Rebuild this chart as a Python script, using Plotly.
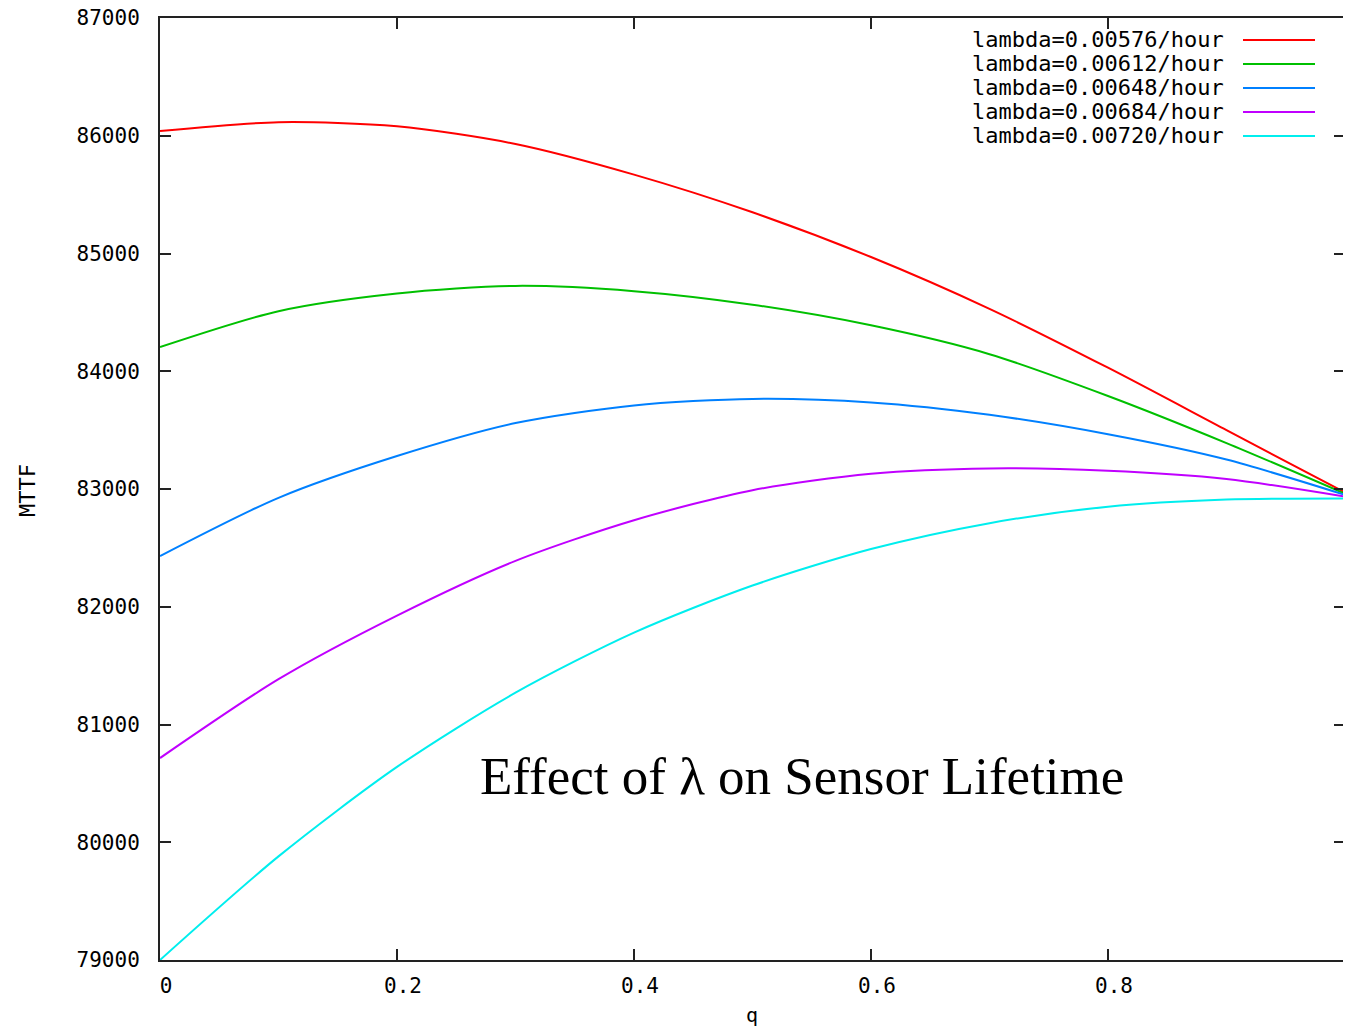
import plotly.graph_objects as go

q_values = [0.0, 0.1, 0.2, 0.3, 0.4, 0.5, 0.6, 0.7, 0.8, 0.9, 1.0]

series_names = [
    "lambda=0.00576/hour",
    "lambda=0.00612/hour",
    "lambda=0.00648/hour",
    "lambda=0.00684/hour",
    "lambda=0.00720/hour",
]
series_colors = ["#ff0000", "#00c000", "#0080ff", "#c000ff", "#00eeee"]

mttf_00576 = [86040, 86115, 86080, 85930, 85670, 85350, 84970, 84530, 84030, 83500, 82970]
mttf_00612 = [84205, 84510, 84660, 84725, 84680, 84565, 84390, 84145, 83790, 83390, 82960]
mttf_00648 = [82430, 82925, 83280, 83560, 83710, 83765, 83735, 83630, 83465, 83250, 82950]
mttf_00684 = [80715, 81385, 81925, 82390, 82735, 82990, 83130, 83175, 83155, 83085, 82935]
mttf_00720 = [79000, 79880, 80640, 81270, 81780, 82180, 82490, 82710, 82850, 82910, 82920]
series_values = [mttf_00576, mttf_00612, mttf_00648, mttf_00684, mttf_00720]

x_ticks = [0, 0.2, 0.4, 0.6, 0.8, 1]
x_tick_text = ["0", "0.2", "0.4", "0.6", "0.8", "1"]
y_ticks = [79000, 80000, 81000, 82000, 83000, 84000, 85000, 86000, 87000]

title_text = "Effect of \u03bb on Sensor Lifetime"
x_title = "q"
y_title = "MTTF"

# plot-area geometry on screen (page body has an 8px margin)
PL, PR, PT, PB = 160, 1345, 18, 960
PW, PH = PR - PL, PB - PT

def px(xpix):
    return (xpix - PL) / PW

def py(ypix):
    return (PB - ypix) / PH

mono = "DejaVu Sans Mono"
fig = go.Figure()
for name, color, vals in zip(series_names, series_colors, series_values):
    fig.add_trace(go.Scatter(
        x=q_values, y=vals, mode="lines", name=name,
        line=dict(color=color, width=2, shape="spline", smoothing=0.8),
        showlegend=False,
    ))

# custom gnuplot-style key: text right-aligned, sample line to the right
key_top = 40
key_step = 24
for i, (name, color) in enumerate(zip(series_names, series_colors)):
    ypaper = py(key_top + i * key_step)
    fig.add_annotation(
        x=px(1226), y=ypaper, xref="paper", yref="paper",
        text=name, showarrow=False, xanchor="right", yanchor="middle",
        font=dict(family=mono, size=22, color="#000000"),
    )
    fig.add_shape(
        type="line", xref="paper", yref="paper",
        x0=px(1243), x1=px(1315), y0=ypaper, y1=ypaper,
        line=dict(color=color, width=2),
    )

fig.add_annotation(
    x=px(478), y=py(776), xref="paper", yref="paper",
    text=title_text, showarrow=False, xanchor="left", yanchor="middle",
    font=dict(family="Liberation Serif", size=53, color="#000000"),
)
fig.add_annotation(
    x=px(27), y=py(491), xref="paper", yref="paper",
    text=y_title, showarrow=False, textangle=-90, xanchor="center", yanchor="middle",
    font=dict(family=mono, size=22, color="#000000"),
)
fig.add_annotation(
    x=px(752), y=py(1029), xref="paper", yref="paper",
    text=x_title, showarrow=False, xanchor="center", yanchor="bottom",
    font=dict(family=mono, size=20, color="#000000"),
)

axis_common = dict(
    showgrid=False, zeroline=False, showline=True, linecolor="#222222", linewidth=2,
    mirror="allticks", ticks="inside", ticklen=11, tickwidth=2, tickcolor="#222222",
    tickfont=dict(family=mono, size=21, color="#000000"), automargin=False,
    ticklabeloverflow="allow",
)
fig.update_xaxes(range=[0, 1], tickvals=x_ticks, ticktext=x_tick_text,
                 ticklabelstandoff=6, ticklabelshift=6, **axis_common)
fig.update_yaxes(range=[79000, 87000], tickvals=y_ticks, ticktext=[str(v) for v in y_ticks],
                 ticklabelstandoff=14, **axis_common)

fig.update_layout(
    width=1343, height=1022,
    margin=dict(l=PL - 8, r=1343 + 8 - PR, t=PT - 8, b=1022 + 8 - PB, pad=0),
    paper_bgcolor="#ffffff", plot_bgcolor="#ffffff",
    showlegend=False,
)

fig.write_html("out.html")
